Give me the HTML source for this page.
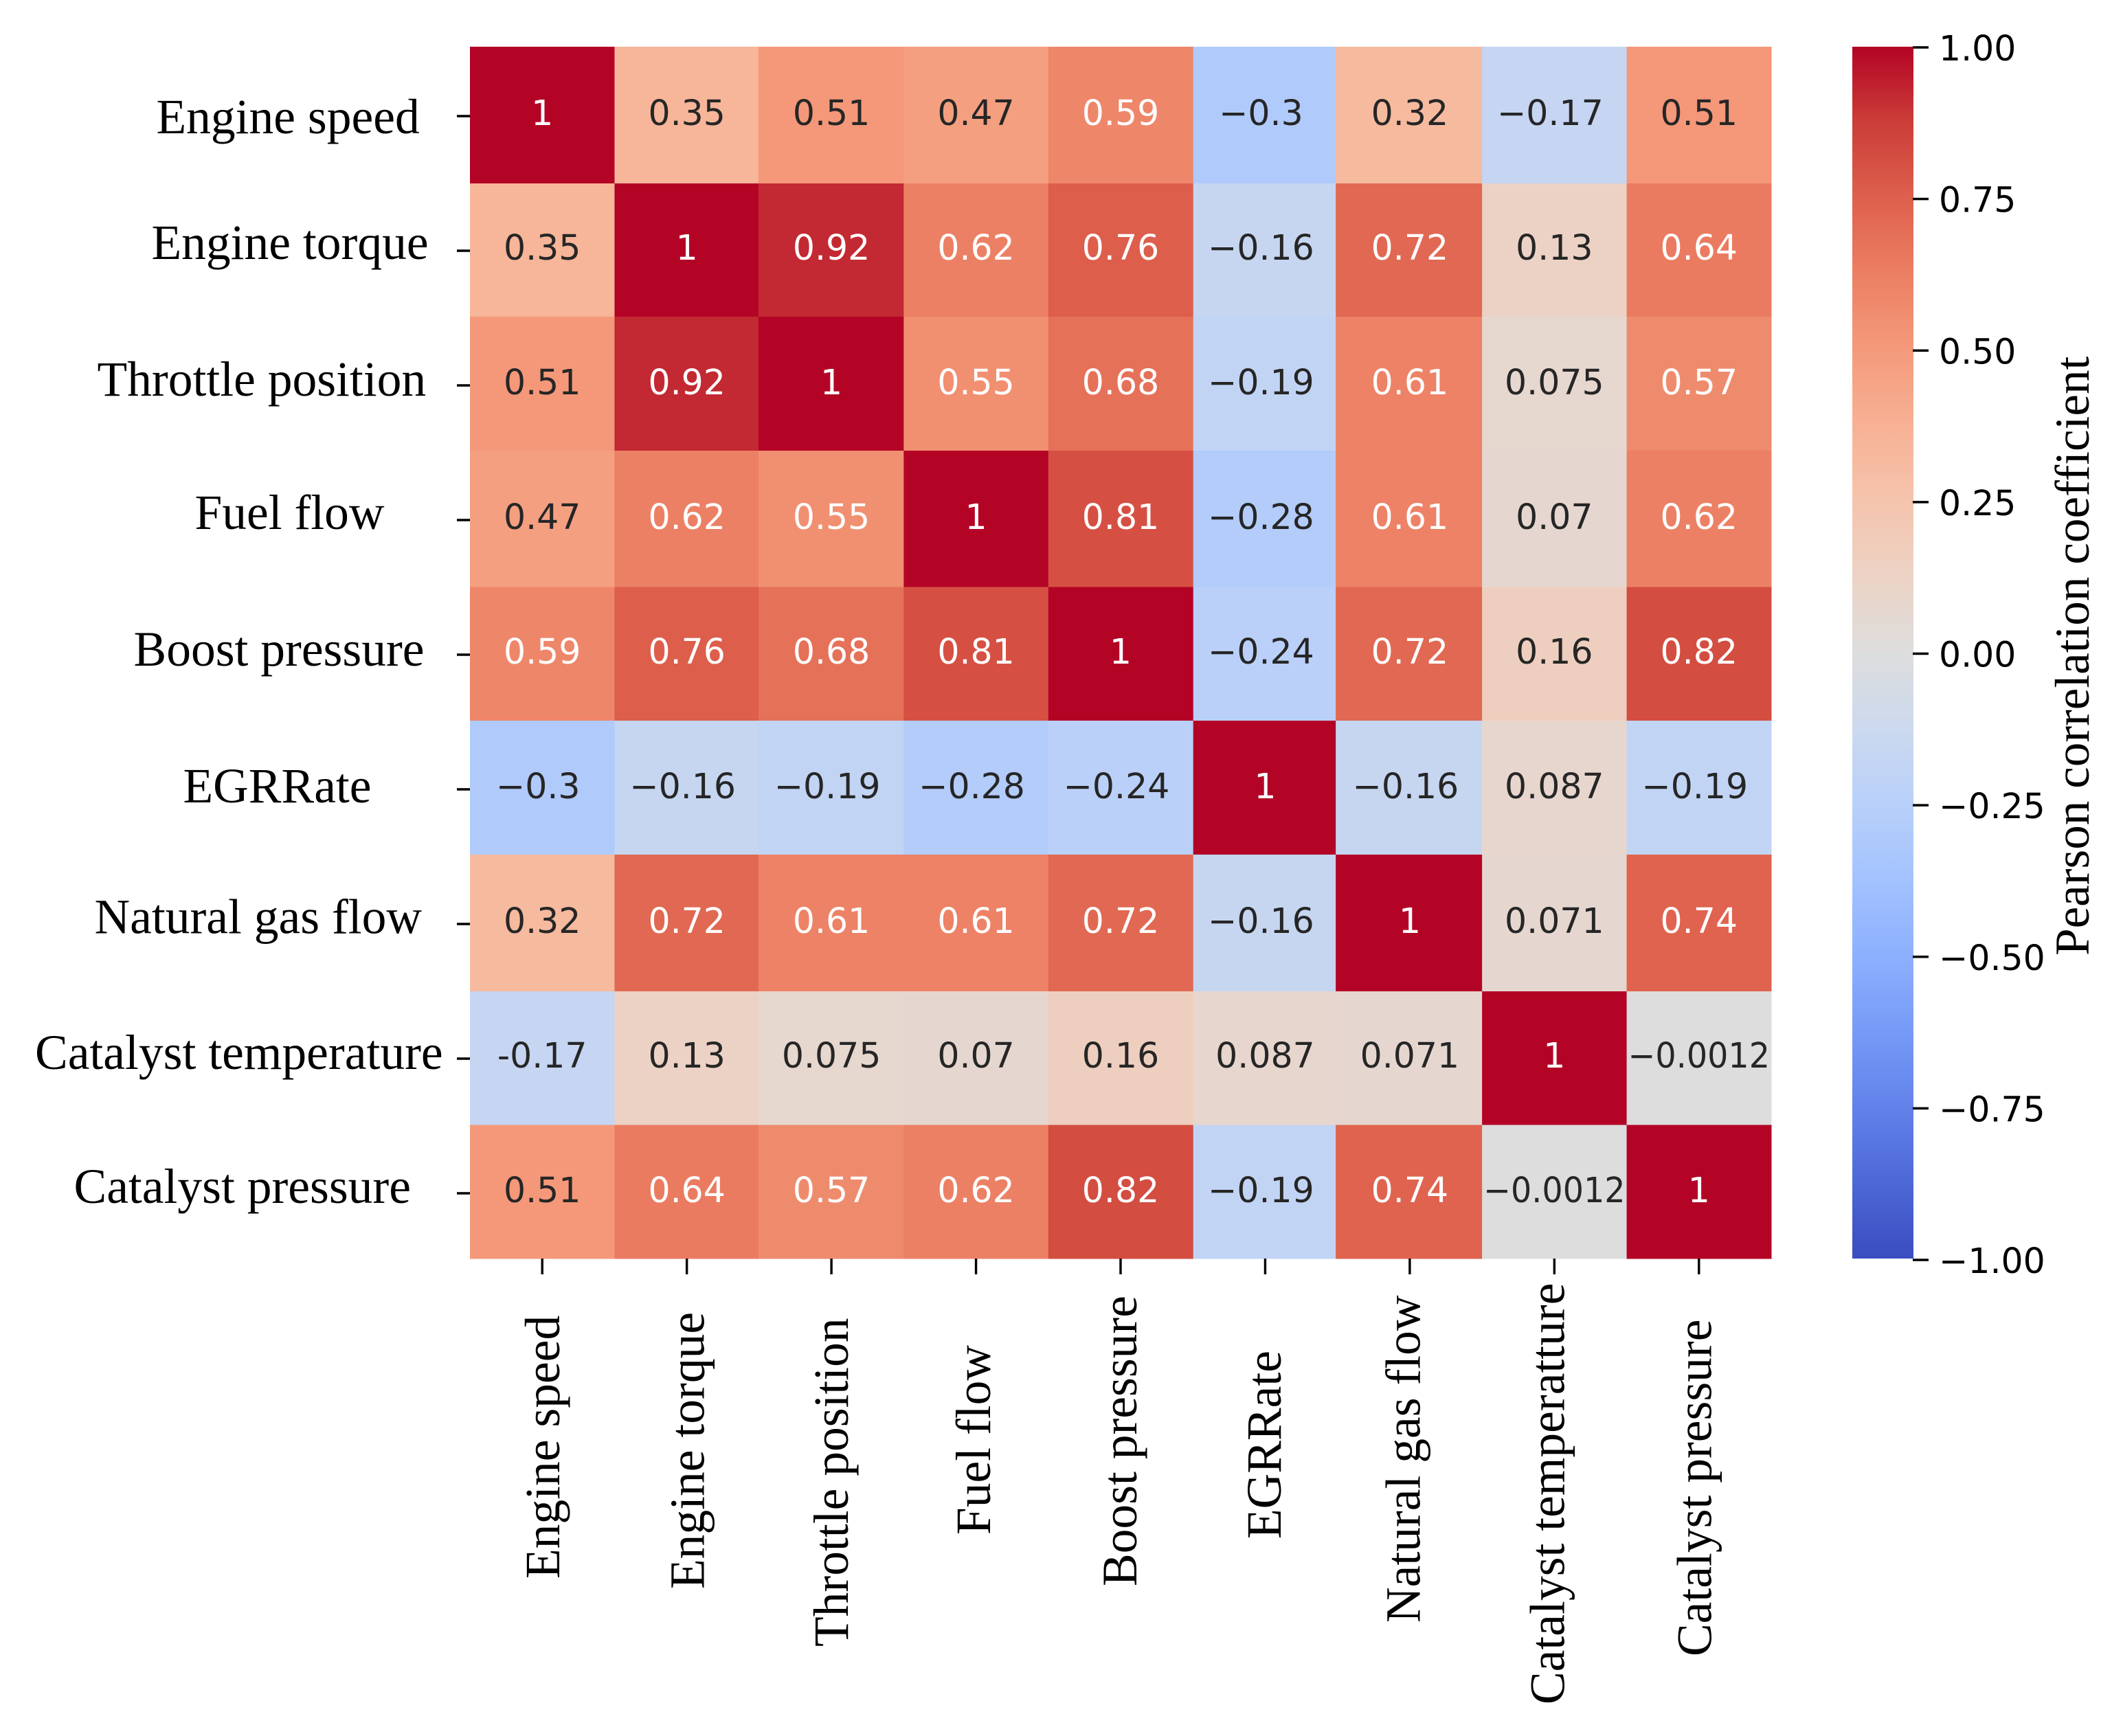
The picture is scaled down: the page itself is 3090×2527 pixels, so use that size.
<!DOCTYPE html>
<html lang="en">
<head>
<meta charset="utf-8">
<title>Pearson correlation heatmap</title>
<style>
  html, body { margin: 0; padding: 0; background: #fff; }
  svg { display: block; }
  .serif { font-family: "Liberation Serif", "Times New Roman", serif; fill: #000; }
  .sans { font-family: "DejaVu Sans", "Liberation Sans", sans-serif; }
</style>
</head>
<body>
<svg id="chart" xmlns="http://www.w3.org/2000/svg" width="3090" height="2527" viewBox="0 0 3090 2527">
  <rect x="0" y="0" width="3090" height="2527" fill="#ffffff"/>
  <defs>
    <linearGradient id="cbar-gradient" x1="0" y1="1" x2="0" y2="0"></linearGradient>
  </defs>
  <g id="heat-cells"></g>
  <g id="heat-annotations"></g>
  <g id="y-axis"></g>
  <g id="x-axis"></g>
  <g id="colorbar"></g>
</svg>
<script>
// ---- Data ----
const yCategories = ["Engine speed", "Engine torque", "Throttle position", "Fuel flow", "Boost pressure", "EGRRate", "Natural gas flow", "Catalyst temperature", "Catalyst pressure"];
const xCategories = ["Engine speed", "Engine torque", "Throttle position", "Fuel flow", "Boost pressure", "EGRRate", "Natural gas flow", "Catalyst temperatture", "Catalyst pressure"];
const rowEngineSpeed = [1, 0.35, 0.51, 0.47, 0.59, -0.3, 0.32, -0.17, 0.51];
const rowEngineTorque = [0.35, 1, 0.92, 0.62, 0.76, -0.16, 0.72, 0.13, 0.64];
const rowThrottlePosition = [0.51, 0.92, 1, 0.55, 0.68, -0.19, 0.61, 0.075, 0.57];
const rowFuelFlow = [0.47, 0.62, 0.55, 1, 0.81, -0.28, 0.61, 0.07, 0.62];
const rowBoostPressure = [0.59, 0.76, 0.68, 0.81, 1, -0.24, 0.72, 0.16, 0.82];
const rowEgrRate = [-0.3, -0.16, -0.19, -0.28, -0.24, 1, -0.16, 0.087, -0.19];
const rowNaturalGasFlow = [0.32, 0.72, 0.61, 0.61, 0.72, -0.16, 1, 0.071, 0.74];
const rowCatalystTemperature = [-0.17, 0.13, 0.075, 0.07, 0.16, 0.087, 0.071, 1, -0.0012];
const rowCatalystPressure = [0.51, 0.64, 0.57, 0.62, 0.82, -0.19, 0.74, -0.0012, 1];
const correlationRows = [rowEngineSpeed, rowEngineTorque, rowThrottlePosition, rowFuelFlow, rowBoostPressure, rowEgrRate, rowNaturalGasFlow, rowCatalystTemperature, rowCatalystPressure];
const colorbarTicks = [1, 0.75, 0.5, 0.25, 0, -0.25, -0.5, -0.75, -1];
const colorbarTitle = "Pearson correlation coefficient";

// ---- Colormap (coolwarm, sampled every 1/16) ----
const coolwarmR = [0.2298, 0.3039, 0.3830, 0.4667, 0.5530, 0.6392, 0.7222, 0.7987, 0.8654, 0.9241, 0.9589, 0.9700, 0.9580, 0.9239, 0.8692, 0.7956, 0.7057];
const coolwarmG = [0.2987, 0.4065, 0.5094, 0.6046, 0.6889, 0.7596, 0.8140, 0.8498, 0.8654, 0.8274, 0.7698, 0.6943, 0.6028, 0.4973, 0.3783, 0.2413, 0.0156];
const coolwarmB = [0.7537, 0.8450, 0.9174, 0.9682, 0.9954, 0.9982, 0.9766, 0.9317, 0.8654, 0.7745, 0.6780, 0.5794, 0.4818, 0.3880, 0.3003, 0.2205, 0.1502];

// ---- Frame geometry ----
const heatLeft = 684, heatRight = 2578, heatTop = 68, heatBottom = 1832;
const cbarLeft = 2696, cbarRight = 2785, cbarTop = 69, cbarBottom = 1834;
const vMin = -1, vMax = 1;
// Small resampling offsets on the grid lines of the source picture
const colEdgeNudge = [0, 0, -1, 0, 0, 0.5, -2.5, 0, 0, 0];
const rowEdgeNudge = [0, 3, 1, 0, 2.5, 1, 0, 3, 1.5, 0];

// ---- Hand-placed label offsets (the source labels were pasted by hand) ----
const yLabelLeft = [227.5, 220.5, 141.5, 283.5, 194.5, 266.5, 137.5, 51, 107.5];
const yLabelDrop = [28, 15, 18, 16, 19, 22, 16.5, 18, 17];
const xLabelShift = [24.8, 24.9, 24, 20.6, 23.2, 22.8, 14.4, 14, 17.6];
const xLabelStart = [2298, 2313, 2397, 2234, 2309, 2240, 2362, 2481, 2411];

// ---- Axis functions ----
const nCols = xCategories.length, nRows = yCategories.length;
const cellW = (heatRight - heatLeft) / nCols;
const cellH = (heatBottom - heatTop) / nRows;
function xEdge(i) { return heatLeft + i * cellW + colEdgeNudge[i]; }
function yEdge(j) { return heatTop + j * cellH + rowEdgeNudge[j]; }
function xCenter(i) { return heatLeft + (i + 0.5) * cellW; }
function yCenter(j) { return heatTop + (j + 0.5) * cellH; }
function cbarY(v) { return cbarBottom - (v - vMin) / (vMax - vMin) * (cbarBottom - cbarTop); }

function colorChannels(v) {
  const t = Math.max(0, Math.min(1, (v - vMin) / (vMax - vMin)));
  const p = t * (coolwarmR.length - 1);
  const i = Math.min(Math.floor(p), coolwarmR.length - 2);
  const f = p - i;
  return [coolwarmR, coolwarmG, coolwarmB].map(function (c) { return c[i] + (c[i + 1] - c[i]) * f; });
}
function toCss(c) {
  return 'rgb(' + c.map(function (x) { return Math.round(x * 255); }).join(',') + ')';
}
function luminance(c) {
  const l = c.map(function (x) { return x <= 0.03928 ? x / 12.92 : Math.pow((x + 0.055) / 1.055, 2.4); });
  return 0.2126 * l[0] + 0.7152 * l[1] + 0.0722 * l[2];
}
function formatValue(v, useHyphen) {
  const s = String(Math.abs(v));
  if (v >= 0) return s;
  return (useHyphen ? '-' : '\u2212') + s;
}

const NS = 'http://www.w3.org/2000/svg';
function make(tag, parent, props) {
  const el = document.createElementNS(NS, tag);
  Object.keys(props).forEach(function (k) { el.setAttribute(k, props[k]); });
  parent.appendChild(el);
  return el;
}

// ---- Heatmap cells and annotations ----
const cellsGroup = document.getElementById('heat-cells');
const annGroup = document.getElementById('heat-annotations');
correlationRows.forEach(function (row, j) {
  row.forEach(function (v, i) {
    const c = colorChannels(v);
    const rect = make('rect', cellsGroup, { x: xEdge(i), y: yEdge(j), width: xEdge(i + 1) - xEdge(i) + 0.5, height: yEdge(j + 1) - yEdge(j) + 0.5, fill: toCss(c) });
    
    
    const hyphen = j === 7 && i === 0;
    const text = formatValue(v, hyphen);
    const shift = (v < 0 && !hyphen && text.length < 7) ? -6 : 0;
    const label = make('text', annGroup, { x: xCenter(i) + shift, y: yCenter(j) + 16, 'text-anchor': 'middle', class: 'sans', 'font-size': 50.5, fill: luminance(c) > 0.408 ? '#262626' : '#ffffff' });
    
    
    label.textContent = text;
    if (label.getComputedTextLength() > cellW - 4) {
      label.setAttribute('textLength', cellW - 4);
      label.setAttribute('lengthAdjust', 'spacingAndGlyphs');
    }
  });
});

// ---- Y axis ----
const yAxis = document.getElementById('y-axis');
yCategories.forEach(function (name, j) {
  const tick = make('line', yAxis, { x1: heatLeft - 19, x2: heatLeft, y1: yCenter(j) + 3, y2: yCenter(j) + 3, stroke: '#000', 'stroke-width': 3.4 });
  
  
  const label = make('text', yAxis, { x: yLabelLeft[j], y: yCenter(j) + yLabelDrop[j], class: 'serif', 'font-size': 71.5 });
  
  
  label.textContent = name;
});

// ---- X axis ----
const xAxis = document.getElementById('x-axis');
xCategories.forEach(function (name, i) {
  const tick = make('line', xAxis, { x1: xCenter(i), x2: xCenter(i), y1: heatBottom, y2: heatBottom + 23, stroke: '#000', 'stroke-width': 3.4 });
  
  
  const bx = xCenter(i) + xLabelShift[i];
  const label = make('text', xAxis, { x: bx, y: xLabelStart[i], class: 'serif', 'font-size': 71.5, transform: 'rotate(-90 ' + bx + ' ' + xLabelStart[i] + ')' });
  
  
  label.textContent = name;
});

// ---- Colorbar ----
const gradient = document.getElementById('cbar-gradient');
for (let k = 0; k < coolwarmR.length; k++) {
  const t = k / (coolwarmR.length - 1);
  make('stop', gradient, { offset: t, 'stop-color': toCss([coolwarmR[k], coolwarmG[k], coolwarmB[k]]) });
}
const cbarGroup = document.getElementById('colorbar');
const cbarRect = make('rect', cbarGroup, { x: cbarLeft, y: heatTop, width: cbarRight - cbarLeft, height: heatBottom - heatTop, fill: 'url(#cbar-gradient)' });


colorbarTicks.forEach(function (v) {
  const y = cbarY(v);
  const tick = make('line', cbarGroup, { x1: cbarRight - 1, x2: cbarRight + 22, y1: y, y2: y, stroke: '#000', 'stroke-width': 3.4 });
  
  
  const label = make('text', cbarGroup, { x: 2822, y: y + 19, class: 'sans', 'font-size': 50.5, fill: '#000' });
  
  
  label.textContent = (v < 0 ? '\u2212' : '') + Math.abs(v).toFixed(2);
});
const cbarTitle = make('text', cbarGroup, { x: 3040, y: 1391, class: 'serif', 'font-size': 71.2, transform: 'rotate(-90 3040 1391)' });


cbarTitle.textContent = colorbarTitle;
</script>
</body>
</html>
